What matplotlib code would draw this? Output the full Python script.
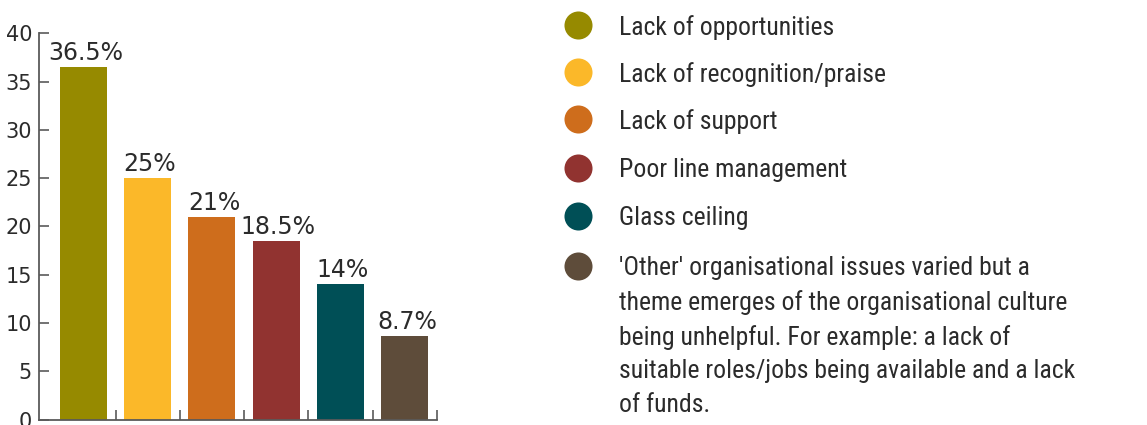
import matplotlib
matplotlib.use("Agg")
import matplotlib.pyplot as plt
from matplotlib import font_manager

categories = ["Lack of opportunities", "Lack of recognition/praise", "Lack of support",
              "Poor line management", "Glass ceiling",
              "'Other' organisational issues varied but a\ntheme emerges of the organisational culture\nbeing unhelpful. For example: a lack of\nsuitable roles/jobs being available and a lack\nof funds."]
values = [36.5, 25, 21, 18.5, 14, 8.7]
value_labels = ["36.5%", "25%", "21%", "18.5%", "14%", "8.7%"]
colors = ["#968A00", "#FBB829", "#CE6D1C", "#913330", "#004F56", "#5E4C3A"]
yticks = [0, 5, 10, 15, 20, 25, 30, 35, 40]

def pick(fams):
    names = {f.name for f in font_manager.fontManager.ttflist}
    for f in fams:
        if f in names:
            return f
    return "DejaVu Sans"

legend_font = pick(["Liberation Sans Narrow", "Roboto Condensed", "DejaVu Sans Condensed", "Lato"])
num_font = "DejaVu Sans"
text_col = "#2b2b2b"
axis_col = "#5a5a5a"

W, H = 1147, 425
fig = plt.figure(figsize=(W / 100, H / 100), dpi=100)
ax = fig.add_axes([39 / W, 1 - 419.5 / H, (437 - 39) / W, (419.5 - 33.3) / H])

x = list(range(len(values)))
ax.bar(x, values, width=0.73, color=colors, zorder=2)
for xi, v, lab in zip(x, values, value_labels):
    ax.annotate(lab, (xi, v), xytext=(1.5, 5), textcoords="offset points",
                ha="center", va="baseline", fontsize=17, family=num_font, color=text_col)

ax.set_xlim(-0.69, 5.5)
ax.set_ylim(0, 40)
ax.set_yticks(yticks)
ax.set_yticklabels([str(t) for t in yticks], family=num_font, fontsize=15, color=text_col)
ax.set_xticks([i + 0.5 for i in range(len(values))])
ax.set_xticklabels([])
ax.tick_params(axis="y", direction="in", length=7, width=1.2, color=axis_col, pad=5)
ax.tick_params(axis="x", direction="in", length=7, width=1.2, color=axis_col)
for s in ["top", "right"]:
    ax.spines[s].set_visible(False)
for s in ["left", "bottom"]:
    ax.spines[s].set_color(axis_col)
    ax.spines[s].set_linewidth(1.3)

# legend overlay in pixel coordinates
lg = fig.add_axes([0, 0, 1, 1])
lg.set_xlim(0, W)
lg.set_ylim(H, 0)
lg.axis("off")
lg.patch.set_alpha(0)
ys = [25, 72, 119, 168, 216, 266]
for yy, c, name in zip(ys, colors, categories):
    lg.scatter([578], [yy], s=28 ** 2 * 0.52, color=c, marker="o", linewidths=0)
    lg.text(619, yy - 10, name, ha="left", va="top",
            fontsize=18.5, family=legend_font, color=text_col, linespacing=1.5)

fig.savefig("out.png", dpi=100)
